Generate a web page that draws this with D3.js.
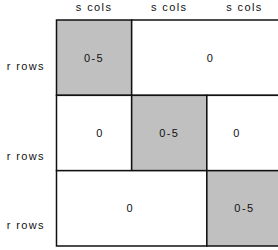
<!DOCTYPE html>
<html>
<head>
<meta charset="utf-8">
<script src="https://cdn.jsdelivr.net/npm/d3@7"></script>
<style>
  body { margin: 0; background: #fff; }
  text { font-family: "Liberation Sans", Arial, sans-serif; font-size: 11px; fill: #111; letter-spacing: 1.4px; }
</style>
</head>
<body>
<div id="chart"></div>
<script>
    // column / row labels
    var colLabels = ["s cols", "s cols", "s cols"];
    var rowLabels = ["r rows", "r rows", "r rows"];
    // where the row labels sit, in row units
    var rowLabelAt = [0.61, 1.81, 2.72];

    // blocks: row, first column, number of columns, value
    var blockRow   = [0, 0, 1, 1, 1, 2, 2];
    var blockCol   = [0, 1, 0, 1, 2, 0, 2];
    var blockSpan  = [1, 2, 1, 1, 1, 2, 1];
    var blockValue = ["0-5", "0", "0", "0-5", "0", "0", "0-5"];
    // label position inside the row, in column units
    var blockLabelAt = [0.5, 2.05, 0.58, 1.5, 2.4, 0.98, 2.5];

    var width = 278, height = 250;

    var svg = d3.select("#chart")
        .append("svg")
        .attr("width", width)
        .attr("height", height);

    var x = d3.scaleLinear().domain([0, 3]).range([56.5, 282]);
    var y = d3.scaleLinear().domain([0, 3]).range([20, 246]);

    var blocks = blockRow.map((r, i) => ({
        row: r, col: blockCol[i], span: blockSpan[i],
        value: blockValue[i], at: blockLabelAt[i]
    }));

    // cells
    svg.selectAll("rect.cell")
        .data(blocks)
        .enter()
        .append("rect")
        .attr("class", "cell")
        .attr("x", d => x(d.col))
        .attr("y", d => y(d.row))
        .attr("width", d => x(d.col + d.span) - x(d.col))
        .attr("height", d => y(d.row + 1) - y(d.row))
        .attr("fill", d => d.value === "0-5" ? "#c0c0c0" : "#fff")
        .attr("stroke", "#111")
        .attr("stroke-width", 1.5);

    // cell values
    svg.selectAll("text.val")
        .data(blocks)
        .enter()
        .append("text")
        .attr("class", "val")
        .attr("x", d => x(d.at))
        .attr("y", d => y(d.row + 0.5))
        .attr("dy", "0.35em")
        .attr("text-anchor", "middle")
        .text(d => d.value);

    // column labels
    svg.selectAll("text.col")
        .data(colLabels)
        .enter()
        .append("text")
        .attr("class", "col")
        .attr("x", (d, i) => x(i + 0.5))
        .attr("y", 11)
        .attr("text-anchor", "middle")
        .text(d => d);

    // row labels
    svg.selectAll("text.row")
        .data(rowLabels)
        .enter()
        .append("text")
        .attr("class", "row")
        .attr("x", 45)
        .attr("y", (d, i) => y(rowLabelAt[i]))
        .attr("dy", "0.35em")
        .attr("text-anchor", "end")
        .text(d => d);
</script>
</body>
</html>
